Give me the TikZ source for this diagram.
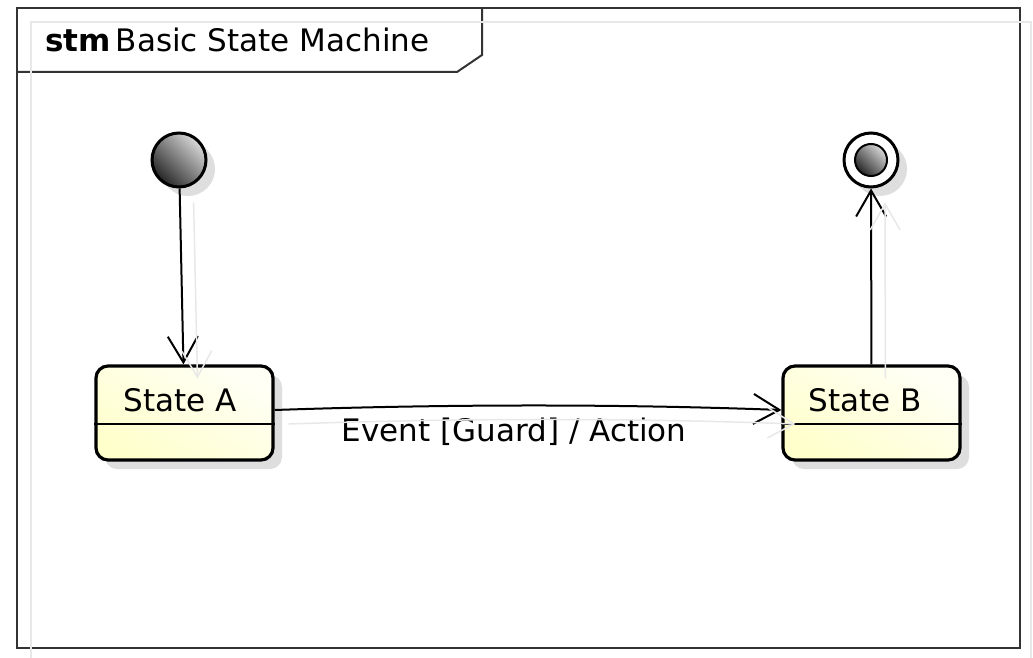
\documentclass[tikz,border=0pt]{standalone}
\usepackage{fontspec}
\setmainfont{DejaVu Sans}
\usetikzlibrary{arrows.meta, shadows}

\definecolor{statelight}{RGB}{255,255,246}
\definecolor{statedark}{RGB}{255,255,204}
\definecolor{framegray}{RGB}{51,51,51}

\begin{document}
\begin{tikzpicture}[x = 1pt, y = -1pt,
	every node/.style = {font = \fontsize{31}{37}\selectfont},
	state/.style = {draw, line width = 3.2pt, rounded corners = 12pt,
		minimum width = 177pt, minimum height = 94pt,
		left color = statelight, right color = statedark, shading angle = -30,
		drop shadow = {shadow xshift = 9pt, shadow yshift = -9pt,
			fill = black!13, opacity = 1}},
	pseudo/.style = {circle, draw, line width = 3pt, inner sep = 0pt,
		drop shadow = {shadow xshift = 9pt, shadow yshift = -9pt,
			fill = black!13, opacity = 1}},
	dot/.style = {left color = black!15, right color = black!85, shading angle = -45},
	trans/.style = {line width = 2pt, -{Straight Barb[length = 26pt, width = 30pt]}},
	ghost/.style = {black!9, line width = 1.5pt}]

	% Definitions

	\def\G{14}		% Offset of the faint second copy

	% Page

	\fill [white] (0, 0) rectangle (1033, 658);
	\useasboundingbox (0, 0) rectangle (1033, 658);

	% Frame and title tab

	\draw [framegray, line width = 2.5pt] (17, 8) rectangle (1020, 648);
	\draw [framegray, line width = 2pt] (482, 8) -- (482, 55) -- (457, 72) -- (17, 72);
	\node [anchor = base west, inner sep = 0pt] (title) at (45, 52)
		{\textbf{stm}\hspace{5pt}Basic State Machine};

	% Pseudo states

	\node [pseudo, minimum size = 54pt, dot] (init) at (179, 160) {};
	\node [pseudo, minimum size = 54pt, fill = white] (final) at (871, 160) {};
	\node [circle, draw, line width = 2pt, minimum size = 32pt, inner sep = 0pt, dot]
		(final-dot) at (871, 160) {};

	% States

	\node [state] (A) at (184.5, 413) {};
	\node (A-label) at (180, 400) {State A};
	\draw [line width = 1.5pt] (A.west |- 0, 424) -- (A.east |- 0, 424);

	\node [state] (B) at (871.5, 413) {};
	\node (B-label) at (865, 400) {State B};
	\draw [line width = 1.5pt] (B.west |- 0, 424) -- (B.east |- 0, 424);

	% Transitions

	\draw [trans] (init) -- (A);
	\draw [trans] (A.east |- 0, 410) .. controls (450, 404) and (620, 404) ..
		node [pos = 0.48, below = 8pt, xshift = -9pt] (event) {Event [Guard] / Action}
		(B.west |- 0, 410);
	\draw [trans] (B) -- (final);

	% Faint shifted copy of frame and transitions

	\begin{scope}[transform canvas = {shift = {(\G pt, -\G pt)}}]
		\draw [ghost] (17, 8) rectangle (1017, 652);
		\draw [ghost, -{Straight Barb[length = 26pt, width = 30pt]}] (init) -- (A);
		\draw [ghost, -{Straight Barb[length = 26pt, width = 30pt]}] (A.east |- 0, 410) .. controls (450, 404) and (620, 404) .. (B.west |- 0, 410);
		\draw [ghost, -{Straight Barb[length = 26pt, width = 30pt]}] (B) -- (final);
	\end{scope}

\end{tikzpicture}
\end{document}
